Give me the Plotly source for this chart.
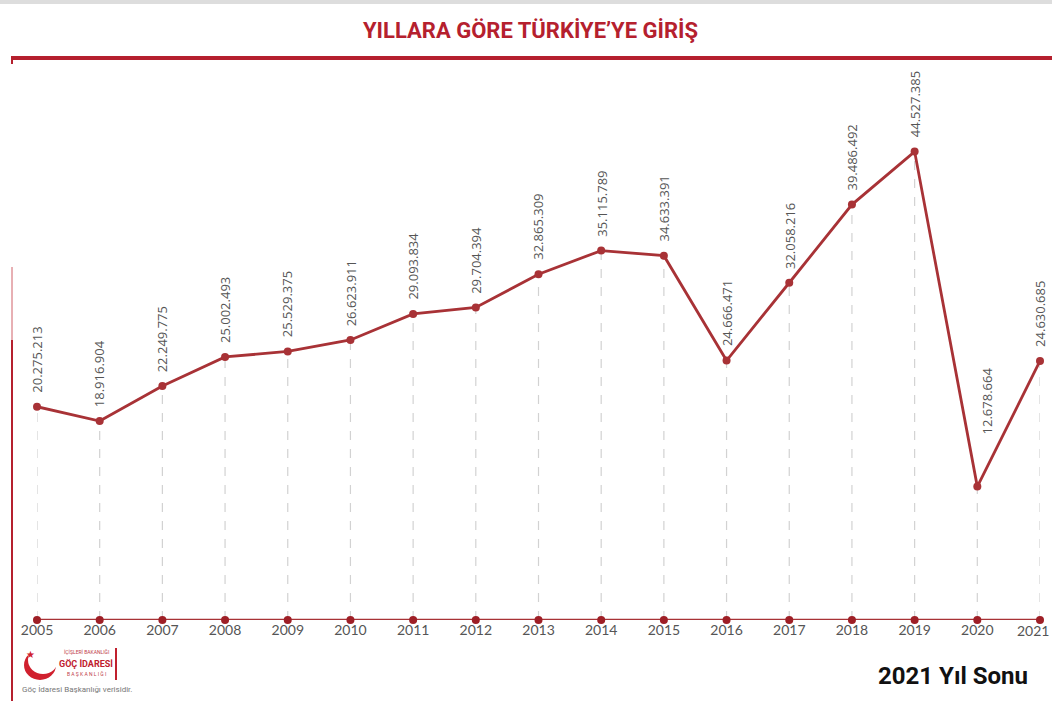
import plotly.graph_objects as go

years = [2005, 2006, 2007, 2008, 2009, 2010, 2011, 2012, 2013, 2014, 2015, 2016, 2017, 2018, 2019, 2020, 2021]
entries = [20275213, 18916904, 22249775, 25002493, 25529375, 26623911, 29093834, 29704394,
           32865309, 35115789, 34633391, 24666471, 32058216, 39486492, 44527385, 12678664, 24630685]
year_labels = [str(y) for y in years]

W, H = 1052, 701
ML, MR, MT, MB = 37, 12, 94, 81
PW, PH = W - ML - MR, H - MT - MB

def px(x):
    return (x - ML) / PW

def py(y):
    return (H - MB - y) / PH

def fmt(v):
    return f"{v:,}".replace(",", ".")

RED = "#a83236"
TITLE_RED = "#b5202e"
COND = "Roboto, Liberation Sans, sans-serif"
TICKFONT = dict(family="Lato, Open Sans, sans-serif", size=14, color="#555555")

# label offsets (pixels) where the reference moves a label clear of the line
label_offsets = {2020: (10, 50)}

fig = go.Figure()

# dashed drop lines from each point to the axis
dx, dy = [], []
for x, v in zip(years, entries):
    dx += [x, x, None]
    dy += [0, v, None]
fig.add_trace(go.Scatter(x=dx, y=dy, mode="lines",
                         line=dict(color="#d2d2d2", width=1.2, dash="dash"),
                         hoverinfo="skip", showlegend=False, cliponaxis=False))

# axis baseline with dots
fig.add_trace(go.Scatter(x=years, y=[0] * len(years), mode="lines+markers",
                         line=dict(color=RED, width=2.5),
                         marker=dict(color="#9e1f26", size=8),
                         hoverinfo="skip", showlegend=False, cliponaxis=False))

# main series
fig.add_trace(go.Scatter(x=years, y=entries, mode="lines+markers",
                         line=dict(color=RED, width=2.8),
                         marker=dict(color=RED, size=8),
                         showlegend=False, cliponaxis=False))

annotations = []
for x, v in zip(years, entries):
    xs, ys = label_offsets.get(x, (0, 12))
    annotations.append(dict(x=x, y=v, xref="x", yref="y", text=fmt(v), textangle=-90,
                            showarrow=False, xanchor="center", yanchor="bottom",
                            xshift=xs, yshift=ys,
                            font=dict(family="Open Sans, Lato, sans-serif", size=13, color="#555555")))

# last year's tick label, nudged left so it stays inside the page
tick_text = year_labels[:-1] + [""]
annotations.append(dict(x=years[-1], y=0, xref="x", yref="y", text=year_labels[-1],
                        showarrow=False, xanchor="center", yanchor="top", xshift=-7, yshift=0,
                        font=TICKFONT))

# title
annotations.append(dict(x=px(530), y=py(31), xref="paper", yref="paper",
                        text="<b>YILLARA GÖRE TÜRKİYE’YE GİRİŞ</b>", showarrow=False,
                        xanchor="center", yanchor="middle",
                        font=dict(family=COND, size=22, color=TITLE_RED)))
# footer
annotations.append(dict(x=px(1030), y=py(676), xref="paper", yref="paper",
                        text="<b>2021 Yıl Sonu</b>", showarrow=False,
                        xanchor="right", yanchor="middle",
                        font=dict(family=COND, size=24, color="#111111")))
# logo texts
annotations.append(dict(x=px(86), y=py(652), xref="paper", yref="paper",
                        text="İÇİŞLERİ BAKANLIĞI", showarrow=False, xanchor="center", yanchor="middle",
                        font=dict(family=COND, size=5, color="#c0404a")))
annotations.append(dict(x=px(86), y=py(663), xref="paper", yref="paper",
                        text="<b>GÖÇ İDARESİ</b>", showarrow=False, xanchor="center", yanchor="middle",
                        font=dict(family=COND, size=9, color="#c0202e")))
annotations.append(dict(x=px(86), y=py(674), xref="paper", yref="paper",
                        text="B A Ş K A N L I Ğ I", showarrow=False, xanchor="center", yanchor="middle",
                        font=dict(family=COND, size=5, color="#c0404a")))
annotations.append(dict(x=px(20), y=py(689), xref="paper", yref="paper",
                        text="Göç İdaresi Başkanlığı verisidir.", showarrow=False, xanchor="left", yanchor="middle",
                        font=dict(family=COND, size=8, color="#777777")))
annotations.append(dict(x=px(30), y=py(654), xref="paper", yref="paper",
                        text="★", showarrow=False, xanchor="center", yanchor="middle",
                        font=dict(family="DejaVu Sans", size=10, color="#d0202e")))

shapes = [
    # faint top border
    dict(type="line", xref="paper", yref="paper", x0=px(0), x1=px(W), y0=py(2), y1=py(2),
         line=dict(color="#dddddd", width=4)),
    # red rule under the title
    dict(type="line", xref="paper", yref="paper", x0=px(11), x1=px(W), y0=py(58), y1=py(58),
         line=dict(color="#b5202e", width=4)),
    dict(type="line", xref="paper", yref="paper", x0=px(12), x1=px(12), y0=py(56), y1=py(64),
         line=dict(color="#b5202e", width=2)),
    # left red vertical rule
    dict(type="line", xref="paper", yref="paper", x0=px(12), x1=px(12), y0=py(267), y1=py(340),
         line=dict(color="#d06068", width=1)),
    dict(type="line", xref="paper", yref="paper", x0=px(12), x1=px(12), y0=py(340), y1=py(701),
         line=dict(color="#b5202e", width=2)),
    # logo crescent
    dict(type="circle", xref="paper", yref="paper", x0=px(24), x1=px(56), y0=py(650), y1=py(680),
         fillcolor="#d0202e", line=dict(width=0)),
    dict(type="circle", xref="paper", yref="paper", x0=px(28), x1=px(58), y0=py(646), y1=py(674),
         fillcolor="white", line=dict(width=0)),
    dict(type="line", xref="paper", yref="paper", x0=px(116), x1=px(116), y0=py(648), y1=py(680),
         line=dict(color="#c0202e", width=2)),
]

fig.update_layout(
    width=W, height=H,
    margin=dict(l=ML, r=MR, t=MT, b=MB),
    paper_bgcolor="white", plot_bgcolor="white",
    annotations=annotations, shapes=shapes,
    xaxis=dict(range=[2005, 2021], tickmode="array", tickvals=years, ticktext=tick_text,
               showgrid=False, zeroline=False, showline=False, ticks="",
               tickfont=TICKFONT),
    yaxis=dict(range=[0, 50000000], visible=False, showgrid=False, zeroline=False),
)

fig.write_html("out.html", config={"displayModeBar": False})

# remove the browser's default body margin so the figure fills the window exactly
with open("out.html", encoding="utf-8") as f:
    html = f.read()
html = html.replace("<body>", '<body style="margin:0;padding:0;overflow:hidden">', 1)
with open("out.html", "w", encoding="utf-8") as f:
    f.write(html)
